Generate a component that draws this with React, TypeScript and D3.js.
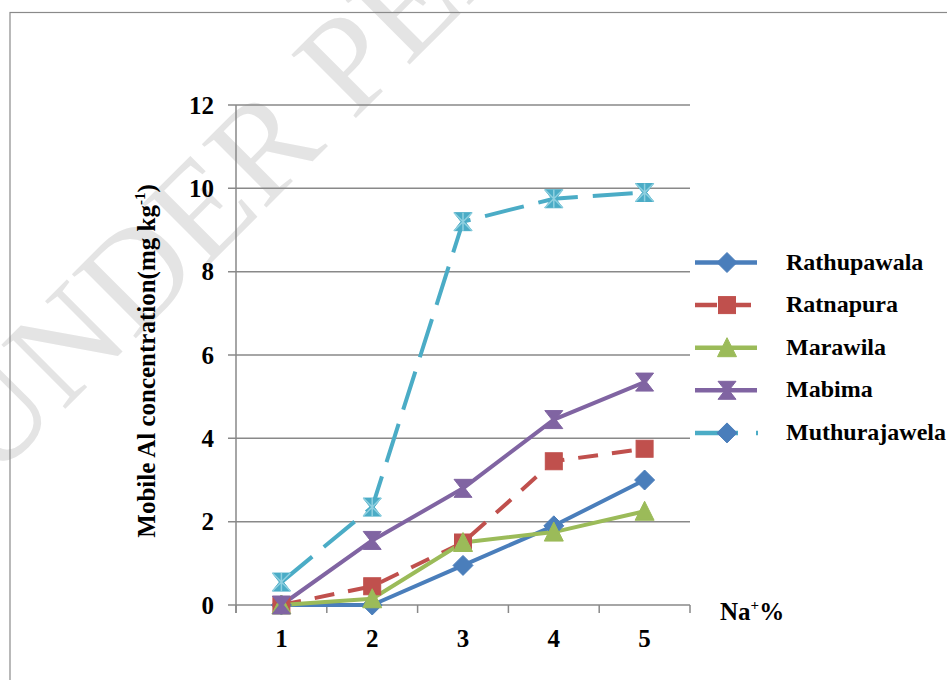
import { line, scaleBand, scaleLinear } from "d3";

const width = 947;
const height = 680;

const categories = ["1", "2", "3", "4", "5"];
const yTicks = [0, 2, 4, 6, 8, 10, 12];

const rathupawala = [0, 0, 0.95, 1.9, 3.0];
const ratnapura = [0, 0.45, 1.5, 3.45, 3.75];
const marawila = [0, 0.15, 1.5, 1.75, 2.25];
const mabima = [0, 1.55, 2.8, 4.45, 5.35];
const muthurajawela = [0.55, 2.35, 9.2, 9.75, 9.9];

const seriesNames = ["Rathupawala", "Ratnapura", "Marawila", "Mabima", "Muthurajawela"];

const series = [
  { name: seriesNames[0], values: rathupawala, color: "#4A7EBB", dash: "", marker: "diamond" },
  { name: seriesNames[1], values: ratnapura, color: "#C0504D", dash: "20 14", marker: "square" },
  { name: seriesNames[2], values: marawila, color: "#9BBB59", dash: "", marker: "triangle" },
  { name: seriesNames[3], values: mabima, color: "#8064A2", dash: "", marker: "hourglass" },
  { name: seriesNames[4], values: muthurajawela, color: "#4BACC6", dash: "40 15", marker: "star" },
];

const left = 236;
const right = 690;
const top = 105;
const bottom = 605;

const font = "'Liberation Serif', 'Times New Roman', serif";

function Marker({ type, color, x, y }: { type: string; color: string; x: number; y: number }) {
  if (type === "diamond")
    return <path d="M0,-10L10,0L0,10L-10,0Z" transform={`translate(${x},${y})`} fill={color} stroke={color} strokeWidth={1} />;
  if (type === "square")
    return <rect x={x - 8.5} y={y - 8.5} width={17} height={17} fill={color} stroke={color} />;
  if (type === "triangle")
    return <path d="M0,-10L9.5,9L-9.5,9Z" transform={`translate(${x},${y})`} fill={color} stroke={color} />;
  if (type === "hourglass")
    return <path d="M-9,-9L9,-9L2,0L9,9L-9,9L-2,0Z" transform={`translate(${x},${y})`} fill={color} stroke={color} />;
  // star-ish marker: hourglass with an x on top
  return (
    <g transform={`translate(${x},${y})`}>
      <path d="M-9,-9L9,-9L2,0L9,9L-9,9L-2,0Z" fill={color} stroke={color} />
      <path d="M-9,-9L9,9M9,-9L-9,9M0,-9V9" stroke="#8fd0e0" strokeWidth={1.5} />
    </g>
  );
}

function App() {
  const x = scaleBand().domain(categories).range([left, right]);
  const y = scaleLinear().domain([0, 12]).range([bottom, top]);
  const cx = (c: string) => (x(c) as number) + x.bandwidth() / 2;

  const pathGen = line<number>()
    .x((d, i) => cx(categories[i]))
    .y((d) => y(d));

  const bounds = [...categories.map((c) => x(c) as number), right];

  return (
    <div style={{ position: "absolute", left: 0, top: 0 }}>
      <svg width={width} height={height} style={{ display: "block", background: "#fff" }}>
        {/* watermark */}
        <text
          transform="translate(-8,482) rotate(-45)"
          fontFamily={font}
          fontSize={138}
          fill="#e4e4e4"
        >
          UNDER PEER REVIEW
        </text>

        {/* outer frame */}
        <rect x={10} y={12.5} width={1000} height={1000} fill="none" stroke="#8a8a8a" strokeWidth={1.2} />

        {/* gridlines + y ticks */}
        {yTicks.map((t) => (
          <g key={t}>
            <line x1={228} x2={right} y1={y(t)} y2={y(t)} stroke="#898989" strokeWidth={1.5} />
            <text
              x={214}
              y={y(t)}
              dy="0.35em"
              textAnchor="end"
              fontFamily={font}
              fontWeight="bold"
              fontSize={25}
            >
              {t}
            </text>
          </g>
        ))}

        {/* y axis */}
        <line x1={left} x2={left} y1={top} y2={bottom + 8} stroke="#898989" strokeWidth={1.5} />
        {/* x ticks */}
        {bounds.map((b, i) => (
          <line key={i} x1={b} x2={b} y1={bottom} y2={bottom + 8} stroke="#898989" strokeWidth={1.5} />
        ))}
        {categories.map((c) => (
          <text
            key={c}
            x={cx(c)}
            y={647}
            textAnchor="middle"
            fontFamily={font}
            fontWeight="bold"
            fontSize={25}
          >
            {c}
          </text>
        ))}

        <text x={720} y={620} fontFamily={font} fontWeight="bold" fontSize={25}>
          Na
          <tspan fontSize={15} dy={-10}>
            +
          </tspan>
          <tspan dy={10}>%</tspan>
        </text>

        <text
          transform="translate(155,361) rotate(-90)"
          textAnchor="middle"
          fontFamily={font}
          fontWeight="bold"
          fontSize={25}
        >
          Mobile Al concentration(mg kg
          <tspan fontSize={15} dy={-10}>
            -1
          </tspan>
          <tspan dy={10}>)</tspan>
        </text>

        {/* series lines */}
        {series.map((s) => (
          <path
            key={s.name}
            d={pathGen(s.values) || ""}
            fill="none"
            stroke={s.color}
            strokeWidth={4}
            strokeDasharray={s.dash || undefined}
            strokeLinejoin="round"
          />
        ))}
        {series.map((s) =>
          s.values.map((v, i) => (
            <Marker key={s.name + i} type={s.marker} color={s.color} x={cx(categories[i])} y={y(v)} />
          ))
        )}

        {/* legend */}
        {series.map((s, i) => {
          const ly = 262.5 + i * 42.6;
          const isLast = i === 4;
          return (
            <g key={s.name}>
              <line
                x1={695}
                x2={isLast ? 758 : 757}
                y1={ly}
                y2={ly}
                stroke={s.color}
                strokeWidth={4.5}
                strokeDasharray={isLast ? "43 18" : s.dash ? "22 12" : undefined}
              />
              <Marker
                type={isLast ? "diamond" : s.marker}
                color={isLast ? "#4A7EBB" : s.color}
                x={727}
                y={ly}
              />
              <text x={786} y={ly + 7} fontFamily={font} fontWeight="bold" fontSize={24}>
                {s.name}
              </text>
            </g>
          );
        })}
      </svg>
    </div>
  );
}

export default App;
